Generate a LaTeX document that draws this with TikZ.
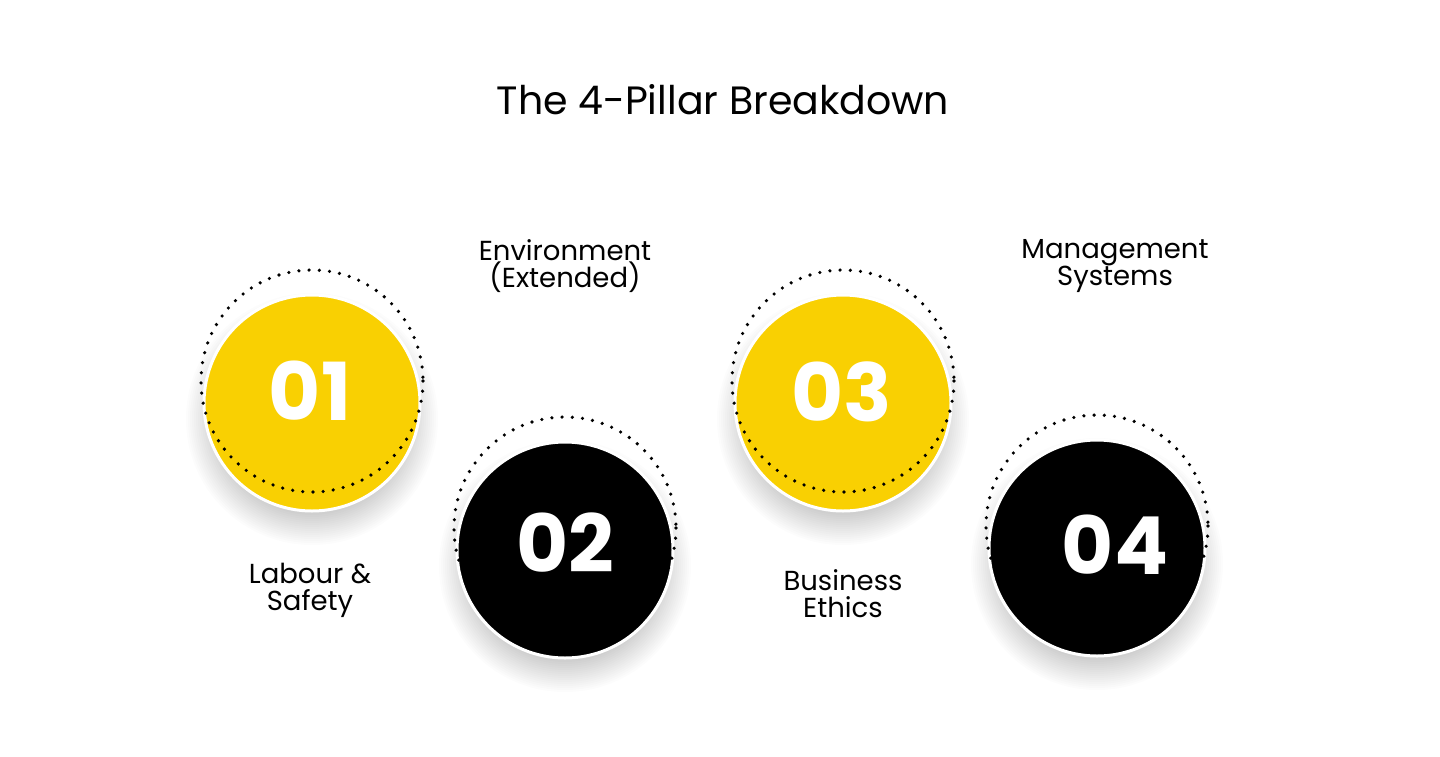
\documentclass[tikz,border=0pt]{standalone}
\usepackage{fontspec}
\setmainfont{Poppins}
\definecolor{pyellow}{HTML}{F9D002}
\begin{document}
\begin{tikzpicture}[x=1pt,y=-1pt,
  numcircle/.style={circle, minimum size=216pt, inner sep=0pt, draw=white, line width=3pt},
  yel/.style={numcircle, fill=pyellow},
  blk/.style={numcircle, fill=black},
  numtext/.style={inner sep=0pt, text=white, font=\fontsize{80}{80}\selectfont\bfseries},
  dotring/.style={draw=black, line width=3.6pt, line cap=round, dash pattern=on 0pt off 10.2pt},
  lbl/.style={align=center, inner sep=0pt, text=black, font=\fontsize{27.5}{27}\selectfont},
  ttl/.style={inner sep=0pt, text=black, font=\fontsize{39.5}{44}\selectfont}
]
\useasboundingbox (0,0) rectangle (1440,756);
\fill[white] (0,0) rectangle (1440,756);

% title
\node[ttl] (title) at (723,100) {The 4-Pillar Breakdown};

% shadows
\foreach \cx/\cy in {312/403, 565/550, 843/403, 1097/548}{
  \foreach \i in {1,...,16}{
    \fill[black, opacity=0.011] (\cx,\cy+16) circle[radius=94+2*\i];
  }
}

% circles
\node[yel] (c1) at (312,403) {};
\node[blk] (c2) at (565,550) {};
\node[yel] (c3) at (843,403) {};
\node[blk] (c4) at (1097,548) {};

% dotted rings
\draw[dotring] (c1.center) ++(0,-22) circle[radius=111];
\draw[dotring] (c2.center) ++(0,-22) circle[radius=111];
\draw[dotring] (c3.center) ++(0,-22) circle[radius=111];
\draw[dotring] (c4.center) ++(0,-22) circle[radius=111];

% numbers
\node[numtext] (n1) at (310,391) {01};
\node[numtext] (n2) at (565,543) {02};
\node[numtext] (n3) at (842,392) {03};
\node[numtext] (n4) at (1115,545) {04};

% labels
\node[lbl] (l1) at (565,266) {Environment\\(Extended)};
\node[lbl] (l2) at (1115,266) {Management\\Systems};
\node[lbl] (l3) at (310,590) {Labour \&\\Safety};
\node[lbl] (l4) at (843,594) {Business\\Ethics};
\end{tikzpicture}
\end{document}
